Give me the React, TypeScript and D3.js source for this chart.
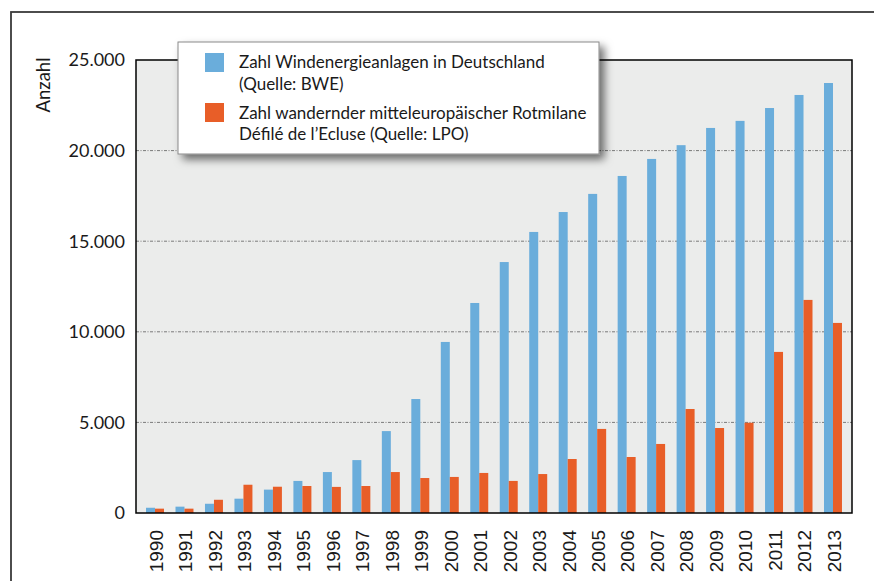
import React from "react";
import * as d3 from "d3";

const years = ["1990","1991","1992","1993","1994","1995","1996","1997","1998","1999","2000","2001","2002","2003","2004","2005","2006","2007","2008","2009","2010","2011","2012","2013"];
const windTurbines = [290, 350, 510, 790, 1290, 1770, 2260, 2920, 4520, 6290, 9440, 11590, 13850, 15510, 16610, 17610, 18600, 19540, 20300, 21250, 21640, 22350, 23070, 23730];
const redKites = [240, 240, 730, 1560, 1450, 1490, 1440, 1490, 2260, 1930, 1990, 2210, 1770, 2150, 2980, 4640, 3090, 3810, 5740, 4690, 4980, 8890, 11760, 10490];
const yTicks = [0, 5000, 10000, 15000, 20000, 25000];
const legendLines1 = ["Zahl Windenergieanlagen in Deutschland", "(Quelle: BWE)"];
const legendLines2 = ["Zahl wandernder mitteleuropäischer Rotmilane", "Défilé de l\u2019Ecluse (Quelle: LPO)"];
const yTitle = "Anzahl";

const BLUE = "#6aaddb";
const ORANGE = "#e85e28";
const FONT = "Lato, 'Open Sans', sans-serif";

export default function App() {
  const left = 136, right = 852, top = 60, bottom = 513;
  const x0 = d3.scaleBand<string>().domain(years).range([left, right]).paddingInner(0.39).paddingOuter(0.34);
  const x1 = d3.scaleBand<string>().domain(["wind", "kite"]).range([0, x0.bandwidth()]);
  const y = d3.scaleLinear().domain([0, 25000]).range([bottom, top]);
  const fmt = (v: number) => d3.format(",")(v).replace(/,/g, ".");

  return (
    <svg width={874} height={581} style={{ position: "absolute", left: 0, top: 0, background: "#fff" }}>
      <defs>
        <filter id="shadow" x="-10%" y="-20%" width="130%" height="160%">
          <feDropShadow dx="5" dy="5" stdDeviation="4.5" floodColor="#000" floodOpacity="0.55" />
        </filter>
      </defs>
      <rect x={11} y={12} width={900} height={620} fill="none" stroke="#3a3a3a" strokeWidth={1.8} />
      <rect x={left} y={top} width={right - left} height={bottom - top} fill="#ebeceb" />
      {yTicks.filter(t => t > 0 && t < 25000).map(t => (
        <line key={t} x1={left} x2={right} y1={y(t)} y2={y(t)} stroke="#7a7a7a" strokeWidth={1} strokeDasharray="3,1.5,1,1.5" />
      ))}
      {years.map((yr, i) => (
        <g key={yr}>
          <rect x={(x0(yr) as number) + (x1("wind") as number)} y={y(windTurbines[i])} width={x1.bandwidth()} height={bottom - y(windTurbines[i])} fill={BLUE} />
          <rect x={(x0(yr) as number) + (x1("kite") as number)} y={y(redKites[i])} width={x1.bandwidth()} height={bottom - y(redKites[i])} fill={ORANGE} />
        </g>
      ))}
      <rect x={left} y={top} width={right - left} height={bottom - top} fill="none" stroke="#000" strokeWidth={1.5} />
      {yTicks.map(t => (
        <text key={t} x={125} y={y(t)} dy="0.36em" textAnchor="end" fontFamily={FONT} fontSize={18} fill="#1a1a1a">{fmt(t)}</text>
      ))}
      <text transform={`translate(50,85) rotate(-90)`} textAnchor="middle" fontFamily={FONT} fontSize={18.5} fill="#1a1a1a">{yTitle}</text>
      {years.map(yr => (
        <text key={yr} transform={`translate(${(x0(yr) as number) + x0.bandwidth() / 2 + 1},530) rotate(-90)`} dy="0.36em" textAnchor="end"
          fontFamily="'Liberation Sans Narrow', 'Arial Narrow', 'Liberation Sans', sans-serif" fontSize={19} fill="#1a1a1a">{yr}</text>
      ))}
      <g>
        <rect x={178} y={42} width={421} height={112} fill="#fff" stroke="#8a8a8a" strokeWidth={1} filter="url(#shadow)" />
        <rect x={205} y={53} width={19} height={19} fill={BLUE} />
        <rect x={205} y={103} width={19} height={19} fill={ORANGE} />
        {legendLines1.map((l, i) => (
          <text key={l} x={239} y={68 + i * 22} fontFamily={FONT} fontSize={17} fill="#1a1a1a">{l}</text>
        ))}
        {legendLines2.map((l, i) => (
          <text key={l} x={239} y={119 + i * 21} fontFamily={FONT} fontSize={17} fill="#1a1a1a">{l}</text>
        ))}
      </g>
    </svg>
  );
}
